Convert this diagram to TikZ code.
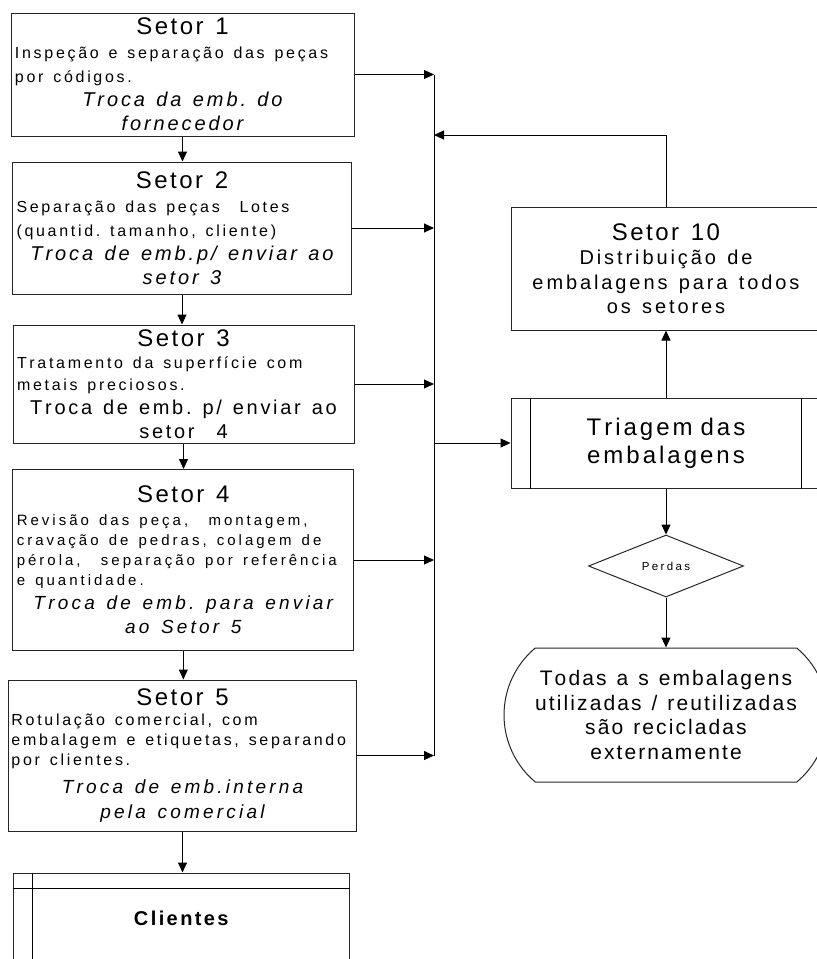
\documentclass[tikz,border=0pt]{standalone}
\usepackage{fontspec}
\setmainfont{Liberation Sans}
\usetikzlibrary{arrows.meta,shapes.geometric,shapes.misc}

% espacamento entre letras
\newdimen\trk
\newXeTeXintercharclass\trkclass
\newcount\cc
\cc=33
\loop \XeTeXcharclass\cc=\trkclass \advance\cc 1 \ifnum\cc<127 \repeat
\XeTeXcharclass`ç=\trkclass \XeTeXcharclass`ã=\trkclass \XeTeXcharclass`é=\trkclass
\XeTeXcharclass`í=\trkclass \XeTeXcharclass`ê=\trkclass \XeTeXcharclass`ó=\trkclass
\XeTeXinterchartoks\trkclass\trkclass={\kern\trk}
\XeTeXinterchartokenstate=1
\frenchspacing

% size, baselineskip, letter spacing
\newcommand{\fs}[3]{\fontsize{#1}{#2}\selectfont\trk=#3pt\relax\spaceskip=\dimexpr\fontdimen2\font+2\trk\relax}

\tikzset{
  setor/.style={draw=black!85, rectangle, line width=1pt, inner xsep=4pt, inner ysep=0pt, text width=#1},
  seta/.style={-{Triangle[length=10pt,width=9pt]}, line width=1pt},
  linha/.style={line width=1pt},
}

\begin{document}
\begin{tikzpicture}[x=1pt,y=-1pt]
\useasboundingbox (0,0) rectangle (817,959);

% coluna dos setores
\node[setor=335pt, minimum height=123pt] (s1) at (182.5,74.5) {%
  {\centering\fs{24}{24}{2.5}Setor 1\par}
  {\raggedright\fs{16}{24}{2.7}Inspeção e separação das peças\\por códigos.\par}
  {\centering\itshape\fs{20}{24}{2.9}Troca da emb. do\\fornecedor\par}};
\node[setor=331pt, minimum height=132pt] (s2) at (182,228) {%
  {\centering\fs{24}{24}{2.5}Setor 2\par}
  {\raggedright\fs{16}{24}{2.7}Separação das peças\ \ Lotes\\(quantid. tamanho, cliente)\par}
  {\centering\itshape\fs{20}{24}{2.9}Troca de emb.p/ enviar ao\\setor 3\par}};
\node[setor=333pt, minimum height=118pt] (s3) at (183.5,384) {%
  {\centering\fs{24}{24}{2.5}Setor 3\par}
  {\raggedright\fs{16}{22}{2.7}Tratamento da superfície com\\metais preciosos.\par}
  {\centering\fs{20}{24}{2.7}Troca de emb. p/ enviar ao\\setor\ \ 4\par}};
\node[setor=333pt, minimum height=181pt] (s4) at (183.3,560) {%
  {\centering\fs{24}{24}{2.5}Setor 4\par}\vspace{3pt}
  {\raggedright\fs{15}{20}{3}Revisão das peça,\ \ montagem,\\cravação de pedras, colagem de\\pérola,\ \ separação por referência\\e quantidade.\par}
  {\centering\itshape\fs{19}{24}{3.2}Troca de emb. para enviar\\ao Setor 5\par}};
\node[setor=342pt, inner xsep=3pt, minimum height=151pt] (s5) at (182.5,755.5) {%
  {\centering\fs{24}{24}{2.5}Setor 5\par}
  {\raggedright\fs{16}{20}{2.7}Rotulação comercial, com\\embalagem e etiquetas, separando\\por clientes.\par}\vspace{3pt}
  {\centering\itshape\fs{19}{25}{3.2}Troca de emb.interna\\pela comercial\par}};
\node[setor=328pt, align=center, minimum height=90pt, font=\bfseries\fs{20}{24}{2.4}] (cli) at (181.3,918) {Clientes};
\draw[linha] ([yshift=-16pt]cli.north west) -- ([yshift=-16pt]cli.north east);
\draw[linha] ([xshift=19.5pt]cli.north west) -- ([xshift=19.5pt]cli.south west);

% coluna da direita
\node[setor=302pt, minimum height=123pt] (s10) at (666,268.5) {%
  {\centering\fs{24}{24}{2.5}Setor 10\par}
  {\centering\fs{20}{24.5}{2.9}Distribuição de\\embalagens para todos\\os setores\par}};
\node[setor=302pt, align=center, minimum height=90pt, font=\fs{24}{28}{3}] (tri) at (666,443) {Triagem das\\embalagens};
\draw[linha] ([xshift=20pt]tri.north west) -- ([xshift=20pt]tri.south west);
\draw[linha] ([xshift=-20pt]tri.north east) -- ([xshift=-20pt]tri.south east);
\node[draw=black!85, line width=1pt, diamond, inner sep=0pt, minimum width=155pt, minimum height=62pt, font=\fs{11.5}{12}{2.4}] (perdas) at (666,566) {Perdas};
\node[draw=black!85, line width=1pt, rounded rectangle, rounded rectangle arc length=100, inner sep=0pt, minimum width=324pt, minimum height=134pt, align=center, font=\fs{21}{24.5}{2.1}] (oval) at (666,715) {Todas a s embalagens\\utilizadas / reutilizadas\\são recicladas\\externamente};

% barramento
\coordinate (bus) at (434,74.5);
\coordinate (ret) at (434,135);
\draw[linha] (s1.east -| bus) -- (s5.east -| bus);

\draw[seta] (s1.south) -- (s1.south |- s2.north);
\draw[seta] (s2.south) -- (s2.south |- s3.north);
\draw[seta] (s3.south) -- (s3.south |- s4.north);
\draw[seta] (s4.south) -- (s4.south |- s5.north);
\draw[seta] (s5.south) -- (s5.south |- cli.north);

\draw[seta] (s1.east) -- (s1.east -| bus);
\draw[seta] (s2.east) -- (s2.east -| bus);
\draw[seta] (s3.east) -- (s3.east -| bus);
\draw[seta] (s4.east) -- (s4.east -| bus);
\draw[seta] (s5.east) -- (s5.east -| bus);

\draw[seta] (bus |- tri.west) -- (tri.west);
\draw[seta] (tri.north) -- (s10.south);
\draw[seta] (s10.north) |- (ret);
\draw[seta] (tri.south) -- (perdas.north);
\draw[seta] (perdas.south) -- (oval.north);
\end{tikzpicture}
\end{document}
